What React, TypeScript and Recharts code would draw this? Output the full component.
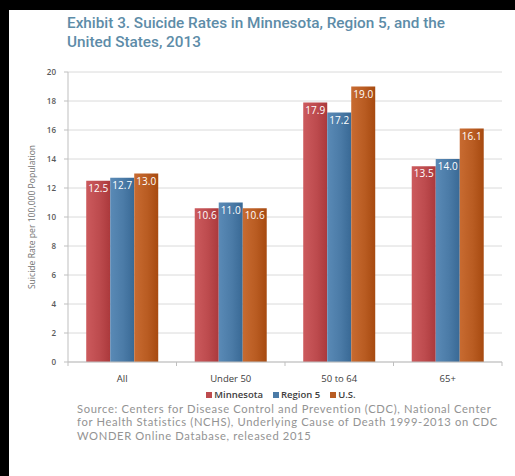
import React from 'react';
import { BarChart, Bar, XAxis, YAxis, CartesianGrid, LabelList } from 'recharts';

const categories = ['All', 'Under 50', '50 to 64', '65+'];
const minnesota = [12.5, 10.6, 17.9, 13.5];
const region5 = [12.7, 11.0, 17.2, 14.0];
const us = [13.0, 10.6, 19.0, 16.1];
const yTicks = [0, 2, 4, 6, 8, 10, 12, 14, 16, 18, 20];

const seriesNames = ['Minnesota', 'Region 5', 'U.S.'];
const seriesKeys = ['mn', 'r5', 'us'];
const seriesColors = ['#bd4b4e', '#4b7ba7', '#b95c22'];

const sourceLines = [
  'Source: Centers for Disease Control and Prevention (CDC), National Center',
  'for Health Statistics (NCHS), Underlying Cause of Death 1999-2013 on CDC',
  'WONDER Online Database, released 2015',
];

const data = categories.map((category, i) => ({
  category,
  mn: minnesota[i],
  r5: region5[i],
  us: us[i],
}));

const W = 515;
const H = 476;
const MARGIN = { top: 72, right: 13, bottom: 84, left: 0 };
const Y_AXIS_W = 68;
const PLOT_W = W - MARGIN.left - MARGIN.right - Y_AXIS_W;
const BAND = PLOT_W / categories.length;

const AXIS_GREY = '#bfbfbf';
const SMALL_FONT = '"Open Sans", "DejaVu Sans", sans-serif';

function CategoryTick(props: any) {
  const { x, y, payload, index } = props;
  return (
    <g>
      {index === 0 && (
        <line x1={x - BAND / 2} x2={x - BAND / 2} y1={y} y2={y + 4} stroke={AXIS_GREY} />
      )}
      <line x1={x + BAND / 2} x2={x + BAND / 2} y1={y} y2={y + 4} stroke={AXIS_GREY} />
      <text
        x={x}
        y={y + 16}
        textAnchor="middle"
        dominantBaseline="central"
        fontSize={9.5}
        fontFamily={SMALL_FONT}
        fill="#404040"
      >
        {payload.value}
      </text>
    </g>
  );
}

function shade(hex: string, amt: number) {
  const n = parseInt(hex.slice(1), 16);
  const f = (c: number) => Math.max(0, Math.min(255, Math.round(c + amt * 255)));
  const r = f((n >> 16) & 255);
  const g = f((n >> 8) & 255);
  const b = f(n & 255);
  return `rgb(${r},${g},${b})`;
}

export default function App() {
  return (
    <div
      style={{
        position: 'absolute',
        left: 0,
        top: 0,
        width: W,
        height: H,
        background: '#000',
        overflow: 'hidden',
      }}
    >
      <div style={{ position: 'absolute', left: 9, top: 10, width: W - 9, height: H - 10, background: '#fff' }} />

      <div
        style={{
          position: 'absolute',
          left: 67,
          top: 14,
          fontFamily: 'Roboto, "Liberation Sans", sans-serif',
          fontWeight: 500,
          fontSize: 15.3,
          lineHeight: '19px',
          color: '#5d8ca8',
          whiteSpace: 'nowrap',
        }}
      >
        Exhibit 3. Suicide Rates in Minnesota, Region 5, and the
        <br />
        United States, 2013
      </div>

      <div style={{ position: 'absolute', left: 0, top: 0 }}>
        <BarChart
          width={W}
          height={H}
          data={data}
          margin={MARGIN}
          barCategoryGap="16.8%"
          barGap={0}
        >
          <defs>
            {seriesColors.map((c, i) => (
              <linearGradient key={seriesKeys[i]} id={`grad-${seriesKeys[i]}`} x1="0" y1="0" x2="1" y2="0">
                <stop offset="0%" stopColor={shade(c, 0.06)} />
                <stop offset="55%" stopColor={c} />
                <stop offset="100%" stopColor={shade(c, -0.07)} />
              </linearGradient>
            ))}
          </defs>
          <CartesianGrid vertical={false} stroke="#dadada" />
          <XAxis
            dataKey="category"
            height={30}
            tickSize={0}
            tickMargin={0}
            tickLine={false}
            axisLine={{ stroke: AXIS_GREY }}
            tick={<CategoryTick />}
            interval={0}
          />
          <YAxis
            width={Y_AXIS_W}
            domain={[0, 20]}
            ticks={yTicks}
            interval={0}
            tickSize={4}
            tickMargin={8}
            tickLine={{ stroke: AXIS_GREY }}
            axisLine={{ stroke: AXIS_GREY }}
            tick={{ fontSize: 8, fontFamily: SMALL_FONT, fill: '#595959', fontWeight: 600 }}
            label={{
              value: 'Suicide Rate per 100,000 Population',
              angle: -90,
              position: 'center',
              dx: -2,
              style: { fontSize: 8.6, fontFamily: SMALL_FONT, fill: '#707070', textAnchor: 'middle' },
            }}
          />
          {seriesKeys.map((k, i) => (
            <Bar
              key={k}
              dataKey={k}
              name={seriesNames[i]}
              fill={`url(#grad-${k})`}
              isAnimationActive={false}
            >
              <LabelList
                dataKey={k}
                position="insideTop"
                offset={4}
                fill="#ffffff"
                fontSize={10}
                fontFamily={SMALL_FONT}
                formatter={(v: any) => Number(v).toFixed(1)}
              />
            </Bar>
          ))}
        </BarChart>
      </div>

      <div
        style={{
          position: 'absolute',
          left: 0,
          width: 562,
          top: 388,
          display: 'flex',
          justifyContent: 'center',
          alignItems: 'center',
          fontFamily: SMALL_FONT,
          fontSize: 9.5,
          fontWeight: 600,
          color: '#404040',
          whiteSpace: 'nowrap',
        }}
      >
        {seriesNames.map((n, i) => (
          <div key={n} style={{ display: 'flex', alignItems: 'center', marginRight: i < 2 ? 10 : 0 }}>
            <span style={{ width: 6, height: 6, background: seriesColors[i], marginRight: 2, display: 'inline-block' }} />
            <span>{n}</span>
          </div>
        ))}
      </div>

      <div
        style={{
          position: 'absolute',
          left: 77,
          top: 402,
          fontFamily: 'Lato, "Open Sans", sans-serif',
          fontSize: 11.2,
          letterSpacing: 0.65,
          lineHeight: '13.4px',
          color: '#939393',
          whiteSpace: 'nowrap',
        }}
      >
        {sourceLines.map((line) => (
          <div key={line}>{line}</div>
        ))}
      </div>
    </div>
  );
}
